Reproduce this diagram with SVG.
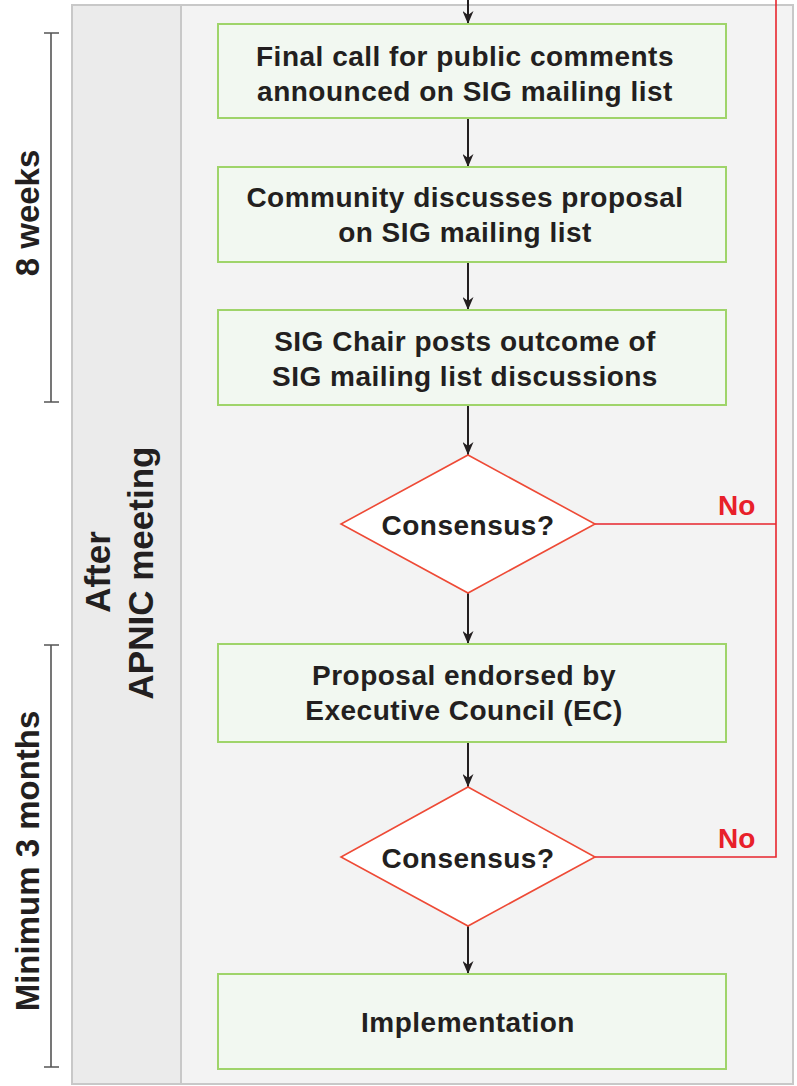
<svg xmlns="http://www.w3.org/2000/svg" width="797" height="1086" viewBox="0 0 797 1086">
<defs>
<style>
.t{font-family:"Liberation Sans",Arial,sans-serif;font-weight:bold;fill:#231f20;text-anchor:middle}
.bt{font-size:28px;letter-spacing:0.5px}
.lt{font-size:33px}
.box{fill:#f2f8f1;stroke:#9fd46a;stroke-width:2}
.dia{fill:#ffffff;stroke:#ee4a36;stroke-width:1.6}
.arr{stroke:#231f20;stroke-width:2;fill:none;marker-end:url(#ah)}
.red{stroke:#e8262e;stroke-width:1.6;fill:none}
.no{font-family:"Liberation Sans",Arial,sans-serif;font-weight:bold;font-size:28px;fill:#e8202a}
.br{stroke:#555;stroke-width:1.6;fill:none}
</style>
<marker id="ah" markerWidth="13" markerHeight="11" refX="13" refY="5.5" orient="auto" markerUnits="userSpaceOnUse" viewBox="0 0 13 11">
<path d="M0,0 L13,5.5 L0,11 L4,5.5 Z" fill="#231f20"/>
</marker>
</defs>
<rect width="797" height="1086" fill="#ffffff"/>
<g id="panel">
<rect x="72" y="5" width="721" height="1079" fill="#f3f3f3" stroke="#c8c8c8" stroke-width="2"/>
<rect x="72" y="5" width="109" height="1079" fill="#ebebeb" stroke="#c8c8c8" stroke-width="2"/>
</g>
<g id="labels">
<g id="bracket-8weeks">
<path class="br" d="M51,33 V402 M44,33 H59 M44,402 H59"/>
<text class="t lt" transform="translate(39,213) rotate(-90)">8 weeks</text>
</g>
<g id="bracket-3months">
<path class="br" d="M51,645 V1067 M44,645 H59 M44,1067 H59"/>
<text class="t lt" transform="translate(39,861) rotate(-90)">Minimum 3 months</text>
</g>
<g id="phase">
<text class="t" font-size="35" transform="translate(110,572) rotate(-90)">After</text>
<text class="t" font-size="35" transform="translate(153,573) rotate(-90)">APNIC meeting</text>
</g>
</g>
<g id="connectors">
<line class="arr" x1="468" y1="0" x2="468" y2="24"/>
<line class="arr" x1="468" y1="118" x2="468" y2="167"/>
<line class="arr" x1="468" y1="262" x2="468" y2="310"/>
<line class="arr" x1="468" y1="405" x2="468" y2="455"/>
<line class="arr" x1="468" y1="593" x2="468" y2="644"/>
<line class="arr" x1="468" y1="742" x2="468" y2="787"/>
<line class="arr" x1="468" y1="926" x2="468" y2="974"/>
<path class="red" d="M595,524 H776 M595,857 H776 V0"/>
<text class="no" x="718" y="515">No</text>
<text class="no" x="718" y="848">No</text>
</g>
<g id="n1">
<rect class="box" x="218" y="24" width="508" height="94"/>
<text class="t bt" x="465" y="66">Final call for public comments</text>
<text class="t bt" x="465" y="101">announced on SIG mailing list</text>
</g>
<g id="n2">
<rect class="box" x="218" y="167" width="508" height="95"/>
<text class="t bt" x="465" y="207">Community discusses proposal</text>
<text class="t bt" x="465" y="242">on SIG mailing list</text>
</g>
<g id="n3">
<rect class="box" x="218" y="310" width="508" height="95"/>
<text class="t bt" x="465" y="351">SIG Chair posts outcome of</text>
<text class="t bt" x="465" y="386">SIG mailing list discussions</text>
</g>
<g id="d1">
<polygon class="dia" points="468,455 595,524 468,593 341,524"/>
<text class="t bt" x="468" y="535">Consensus?</text>
</g>
<g id="n4">
<rect class="box" x="218" y="644" width="508" height="98"/>
<text class="t bt" x="464" y="685">Proposal endorsed by</text>
<text class="t bt" x="464" y="720">Executive Council (EC)</text>
</g>
<g id="d2">
<polygon class="dia" points="468,787 595,857 468,926 341,857"/>
<text class="t bt" x="468" y="868">Consensus?</text>
</g>
<g id="n5">
<rect class="box" x="218" y="974" width="508" height="95"/>
<text class="t bt" x="468" y="1032">Implementation</text>
</g>
</svg>
